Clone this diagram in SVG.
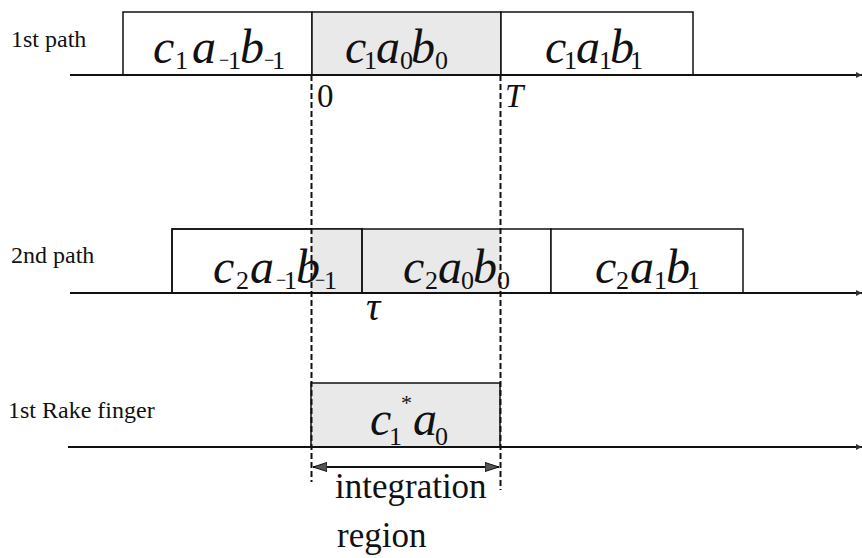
<svg xmlns="http://www.w3.org/2000/svg" width="862" height="558" viewBox="0 0 862 558">
<defs>
<style>
.lbl{font-family:"Liberation Serif","Times New Roman",serif;font-size:24px;fill:#111}
.m{font-family:"Liberation Serif","Times New Roman",serif;font-style:italic;font-size:48px;fill:#111}
.s{font-style:normal;font-size:26px}
.mn{font-style:normal;font-size:18px}
.box{fill:#fff;stroke:#111;stroke-width:1.5}
.nf{fill:none;stroke:#111;stroke-width:1.5}
.sh{fill:#e9e9e9;stroke:#111;stroke-width:1.5}
.axis{stroke:#111;stroke-width:2;fill:none}
.dash{stroke:#111;stroke-width:2;stroke-dasharray:6 3;fill:none}
.big{font-family:"Liberation Serif","Times New Roman",serif;font-size:35px;fill:#111}
</style>
<marker id="ax" viewBox="0 0 10 10" refX="10" refY="5" markerWidth="6" markerHeight="6" orient="auto" markerUnits="userSpaceOnUse">
<path d="M0,0 L10,5 L0,10 z" fill="#333"/>
</marker>
<marker id="ah" viewBox="0 0 14 10" refX="14" refY="5" markerWidth="14" markerHeight="10" orient="auto-start-reverse" markerUnits="userSpaceOnUse">
<path d="M0,0.5 L14,5 L0,9.5 z" fill="#555" stroke="#111" stroke-width="1"/>
</marker>
</defs>
<rect width="862" height="558" fill="#fff"/>

<g id="path1">
<text class="lbl" x="11" y="47">1st path</text>
<rect class="box" x="123" y="12" width="189" height="63"/>
<rect class="sh" x="312" y="12" width="189" height="63"/>
<rect class="box" x="501" y="12" width="192" height="63"/>
<text class="m"><tspan x="153" y="63">c</tspan><tspan class="s" x="175" y="69">1</tspan><tspan x="192" y="63">a</tspan><tspan class="mn" x="219" y="66">−</tspan><tspan class="s" x="228" y="69">1</tspan><tspan x="240" y="63">b</tspan><tspan class="mn" x="264" y="66">−</tspan><tspan class="s" x="272" y="69">1</tspan></text>
<text class="m"><tspan x="345" y="63">c</tspan><tspan class="s" x="364" y="69">1</tspan><tspan x="376" y="63">a</tspan><tspan class="s" x="400" y="69">0</tspan><tspan x="411" y="63">b</tspan><tspan class="s" x="435" y="69">0</tspan></text>
<text class="m"><tspan x="545" y="63">c</tspan><tspan class="s" x="564" y="69">1</tspan><tspan x="576" y="63">a</tspan><tspan class="s" x="599" y="69">1</tspan><tspan x="610" y="63">b</tspan><tspan class="s" x="630" y="69">1</tspan></text>
<text class="big" x="317" y="107" style="font-size:33px">0</text>
<text class="big" x="505" y="107" style="font-size:33px;font-style:italic">T</text>
</g>

<g id="path2">
<text class="lbl" x="11" y="263">2nd path</text>
<rect class="box" x="172" y="229" width="190" height="64"/>
<rect x="311" y="229" width="190" height="64" fill="#e9e9e9"/>
<rect class="nf" x="172" y="229" width="190" height="64"/>
<rect class="nf" x="362" y="229" width="189" height="64"/>
<rect class="box" x="551" y="229" width="192" height="64"/>
<text class="m"><tspan x="213" y="283">c</tspan><tspan class="s" x="236" y="289">2</tspan><tspan x="250" y="283">a</tspan><tspan class="mn" x="276" y="286">−</tspan><tspan class="s" x="284" y="289">1</tspan><tspan x="296" y="283">b</tspan><tspan class="mn" x="315" y="286">−</tspan><tspan class="s" x="324" y="289">1</tspan></text>
<text class="m"><tspan x="403" y="283">c</tspan><tspan class="s" x="425" y="289">2</tspan><tspan x="438" y="283">a</tspan><tspan class="s" x="461" y="289">0</tspan><tspan x="473" y="283">b</tspan><tspan class="s" x="497" y="289">0</tspan></text>
<text class="m"><tspan x="595" y="283">c</tspan><tspan class="s" x="616" y="289">2</tspan><tspan x="630" y="283">a</tspan><tspan class="s" x="654" y="289">1</tspan><tspan x="666" y="283">b</tspan><tspan class="s" x="687" y="289">1</tspan></text>
<text class="big" x="366" y="320" style="font-size:40px;font-style:italic">τ</text>
</g>

<g id="rake">
<text class="lbl" x="8" y="418">1st Rake finger</text>
<rect class="sh" x="311" y="383" width="189" height="64"/>
<text class="m"><tspan x="370" y="435">c</tspan><tspan class="s" x="389" y="445">1</tspan><tspan class="s" x="401" y="410" style="font-size:22px">*</tspan><tspan x="413" y="435">a</tspan><tspan class="s" x="435" y="445">0</tspan></text>
</g>

<g id="region">
<text class="big" x="335" y="498">integration</text>
<text class="big" x="337" y="547">region</text>
</g>

<g id="connectors">
<line class="axis" x1="70" y1="75" x2="862" y2="75" marker-end="url(#ax)"/>
<line class="axis" x1="70" y1="293" x2="862" y2="293" marker-end="url(#ax)"/>
<line class="axis" x1="68" y1="447" x2="862" y2="447" marker-end="url(#ax)"/>
<line class="dash" x1="311.5" y1="75" x2="311.5" y2="482"/>
<line class="dash" x1="500.5" y1="75" x2="500.5" y2="490"/>
<line x1="313" y1="467" x2="499" y2="467" stroke="#111" stroke-width="2" marker-start="url(#ah)" marker-end="url(#ah)"/>
</g>
</svg>
